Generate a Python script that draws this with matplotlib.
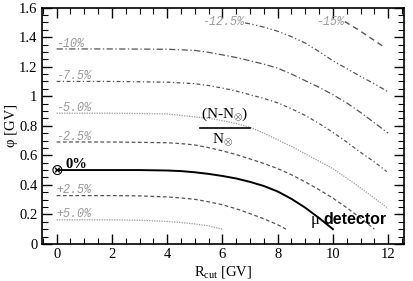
import matplotlib
matplotlib.use("Agg")
from matplotlib import pyplot as plt
from matplotlib.ticker import MultipleLocator

plt.rcParams['font.family'] = ['Liberation Serif', 'DejaVu Serif']
plt.rcParams['mathtext.fontset'] = 'custom'
plt.rcParams['mathtext.rm'] = 'Liberation Serif'
plt.rcParams['mathtext.it'] = 'Liberation Serif:italic'

# contour lines (N-N0)/N0
m15_x = [10.43, 10.92, 11.4, 11.88]
m15_y = [1.505, 1.45, 1.39, 1.33]
m125_x = [6.82, 7, 7.5, 8, 8.5, 9, 9.5, 10, 10.5, 11, 11.5, 11.97]
m125_y = [1.496, 1.49, 1.468, 1.44, 1.403, 1.36, 1.302, 1.24, 1.187, 1.134, 1.084, 1.033]
m10_x = [0, 2, 4, 5, 5.5, 6, 6.5, 7, 7.5, 8, 8.5, 9, 9.5, 10, 10.5, 11, 11.5, 12]
m10_y = [1.32, 1.32, 1.318, 1.31, 1.297, 1.28, 1.262, 1.24, 1.217, 1.19, 1.15, 1.105,
         1.06, 1.01, 0.955, 0.89, 0.82, 0.75]
m75_x = [0, 2, 4, 5, 5.5, 6, 6.5, 7, 7.5, 8, 8.5, 9, 9.5, 10, 10.5, 11, 11.5, 11.95]
m75_y = [1.10, 1.10, 1.095, 1.085, 1.072, 1.055, 1.035, 1.01, 0.985, 0.955, 0.915, 0.87,
         0.815, 0.755, 0.69, 0.62, 0.555, 0.49]
m5_x = [0, 2, 4, 5, 5.5, 6, 6.5, 7, 7.5, 8, 8.5, 9, 9.5, 10, 10.5, 11, 11.5, 12]
m5_y = [0.885, 0.885, 0.88, 0.86, 0.85, 0.835, 0.815, 0.79, 0.75, 0.705, 0.66, 0.61,
        0.56, 0.51, 0.445, 0.38, 0.31, 0.24]
m25_x = [0, 2, 4, 4.5, 5, 5.5, 6, 6.5, 7, 7.5, 8, 8.5, 9, 9.5, 10, 10.5, 11, 11.5]
m25_y = [0.69, 0.69, 0.685, 0.679, 0.67, 0.652, 0.63, 0.605, 0.575, 0.545, 0.51, 0.468,
         0.42, 0.367, 0.31, 0.245, 0.175, 0.1]
z_x = [0, 2, 3, 4, 4.5, 5, 5.5, 6, 6.5, 7, 7.5, 8, 8.5, 9, 9.5, 10]
z_y = [0.5, 0.5, 0.5, 0.497, 0.493, 0.485, 0.474, 0.46, 0.443, 0.42, 0.392, 0.355,
       0.305, 0.245, 0.175, 0.1]
p25_x = [0, 2, 3, 4, 4.5, 5, 5.5, 6, 6.5, 7, 7.5, 8, 8.3]
p25_y = [0.327, 0.327, 0.325, 0.318, 0.311, 0.302, 0.285, 0.265, 0.238, 0.205, 0.17, 0.13, 0.1]
p5_x = [0, 2, 3, 4, 4.5, 5, 5.5, 6]
p5_y = [0.163, 0.163, 0.16, 0.152, 0.145, 0.135, 0.122, 0.10]

dark = '#555555'
light = '#999999'

fig = plt.figure(figsize=(4.13, 2.81), dpi=100)
ax = fig.add_axes([0.101, 0.132, 0.877, 0.841])

ax.plot(m15_x, m15_y, color=dark, lw=1.0, ls=(0, (4, 3)))
ax.plot(m125_x, m125_y, color=dark, lw=0.9, ls=(0, (4, 2, 1, 2, 1, 2)))
ax.plot(m10_x, m10_y, color=dark, lw=0.9, ls=(0, (5, 2, 1, 2)))
ax.plot(m75_x, m75_y, color=dark, lw=0.9, ls=(0, (3, 2, 1, 2)))
ax.plot(m5_x, m5_y, color=light, lw=0.9, ls=(0, (1, 1)))
ax.plot(m25_x, m25_y, color=dark, lw=0.9, ls=(0, (3, 2)))
ax.plot(z_x, z_y, color='black', lw=1.4)
ax.plot(p25_x, p25_y, color=dark, lw=0.9, ls=(0, (3, 2)))
ax.plot(p5_x, p5_y, color=light, lw=0.9, ls=(0, (1, 1)))

# labels of the contours
lab = dict(family='Liberation Mono', style='italic', color=light, fontsize=8.5)
ax.text(0.0, 1.335, '-10%', ha='left', va='baseline', **lab)
ax.text(0.0, 1.115, '-7.5%', ha='left', va='baseline', **lab)
ax.text(0.0, 0.9, '-5.0%', ha='left', va='baseline', **lab)
ax.text(0.0, 0.705, '-2.5%', ha='left', va='baseline', **lab)
ax.text(0.0, 0.345, '+2.5%', ha='left', va='baseline', **lab)
ax.text(0.0, 0.18, '+5.0%', ha='left', va='baseline', **lab)
ax.text(6.78, 1.50, '-12.5%', ha='right', va='center', **lab)
ax.text(10.4, 1.50, '-15%', ha='right', va='center', **lab)

ax.text(0.0, 0.5, '\u2297', family='DejaVu Sans', fontsize=11, ha='center', va='center')
ax.text(0.33, 0.515, '0%', fontsize=10.5, fontweight='bold', ha='left', va='baseline')

# fraction
ax.text(6.1, 0.875, r'(N-N$_{\otimes}$)', fontsize=11, ha='center', va='center')
ax.plot([5.19, 7.0], [0.788, 0.788], color='black', lw=1.2)
ax.text(6.0, 0.705, r'N$_{\otimes}$', fontsize=11, ha='center', va='center')

ax.text(9.18, 0.163, '\u03bc', fontsize=12, ha='left', va='center')
ax.text(9.64, 0.163, 'detector', family='Liberation Sans', fontweight='bold',
        fontsize=11.5, ha='left', va='center')

ax.set_xlim(-0.54, 12.57)
ax.set_ylim(0, 1.6)
ax.xaxis.set_major_locator(MultipleLocator(2))
ax.xaxis.set_minor_locator(MultipleLocator(0.5))
ax.yaxis.set_major_locator(MultipleLocator(0.2))
ax.yaxis.set_minor_locator(MultipleLocator(0.05))
ax.set_yticks([0, 0.2, 0.4, 0.6, 0.8, 1.0, 1.2, 1.4, 1.6])
ax.set_yticklabels(['0', '0.2', '0.4', '0.6', '0.8', '1', '1.2', '1.4', '1.6'])
ax.tick_params(which='both', direction='in', top=True, right=True, labelsize=10.5, pad=3)
ax.tick_params(which='major', length=7, width=1)
ax.tick_params(which='minor', length=4, width=0.8)
for s in ax.spines.values():
    s.set_linewidth(1.2)

ax.set_xlabel(r'R$_{\mathrm{cut}}$ [GV]', fontsize=10.5, labelpad=2)
ax.set_ylabel('\u03c6 [GV]', fontsize=10.5, labelpad=1)

plt.savefig('out.png', dpi=100)
